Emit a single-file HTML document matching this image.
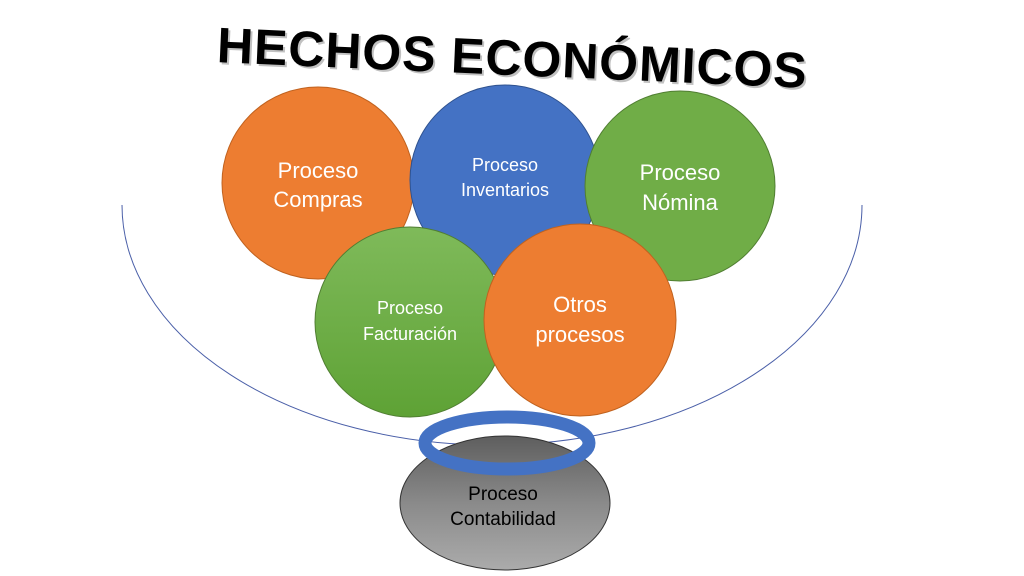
<!DOCTYPE html>
<html><head><meta charset="utf-8"><style>
html,body{margin:0;padding:0;background:#fff;width:1024px;height:576px;overflow:hidden}
svg{display:block}
text{font-family:"Liberation Sans",sans-serif}
</style></head><body>
<svg width="1024" height="576" viewBox="0 0 1024 576">
<defs>
<linearGradient id="gg" x1="0" y1="0" x2="0" y2="1"><stop offset="0" stop-color="#7fba5a"/><stop offset="1" stop-color="#5ea235"/></linearGradient>
<linearGradient id="gr" x1="0" y1="0" x2="0" y2="1"><stop offset="0" stop-color="#5e5e5e"/><stop offset="0.5" stop-color="#8a8a8a"/><stop offset="1" stop-color="#ababab"/></linearGradient>
</defs>
<g transform="rotate(2.5 512 55)">
<text x="514" y="77" text-anchor="middle" font-size="50" font-weight="bold" fill="#999" opacity="0.6" textLength="590">HECHOS ECONÓMICOS</text>
<text x="512" y="75" text-anchor="middle" font-size="50" font-weight="bold" fill="#000" textLength="590">HECHOS ECONÓMICOS</text>
</g>
<path d="M122,205 A370,240 0 0 0 862,205" fill="none" stroke="#4a5fa8" stroke-width="1"/>
<circle cx="318" cy="183" r="96" fill="#ed7d31" stroke="#c0621f" stroke-width="1"/>
<circle cx="505" cy="180" r="95" fill="#4472c4" stroke="#2f528f" stroke-width="1"/>
<circle cx="680" cy="186" r="95" fill="#70ad47" stroke="#507e32" stroke-width="1"/>
<circle cx="410" cy="322" r="95" fill="url(#gg)" stroke="#507e32" stroke-width="1"/>
<circle cx="580" cy="320" r="96" fill="#ed7d31" stroke="#c0621f" stroke-width="1"/>
<g fill="#fff" text-anchor="middle">
<text x="318" y="178" font-size="22">Proceso</text><text x="318" y="207" font-size="22">Compras</text>
<text x="505" y="171" font-size="18">Proceso</text><text x="505" y="196" font-size="18">Inventarios</text>
<text x="680" y="180" font-size="22">Proceso</text><text x="680" y="210" font-size="22">Nómina</text>
<text x="410" y="314" font-size="18">Proceso</text><text x="410" y="340" font-size="18">Facturación</text>
<text x="580" y="312" font-size="22">Otros</text><text x="580" y="342" font-size="22">procesos</text>
</g>
<ellipse cx="505" cy="503" rx="105" ry="67" fill="url(#gr)" stroke="#333" stroke-width="1"/>
<ellipse cx="507" cy="443" rx="82" ry="26" fill="none" stroke="#4472c4" stroke-width="13"/>
<g fill="#000" text-anchor="middle" font-size="19">
<text x="503" y="500">Proceso</text><text x="503" y="525">Contabilidad</text>
</g>
</svg>
</body></html>
